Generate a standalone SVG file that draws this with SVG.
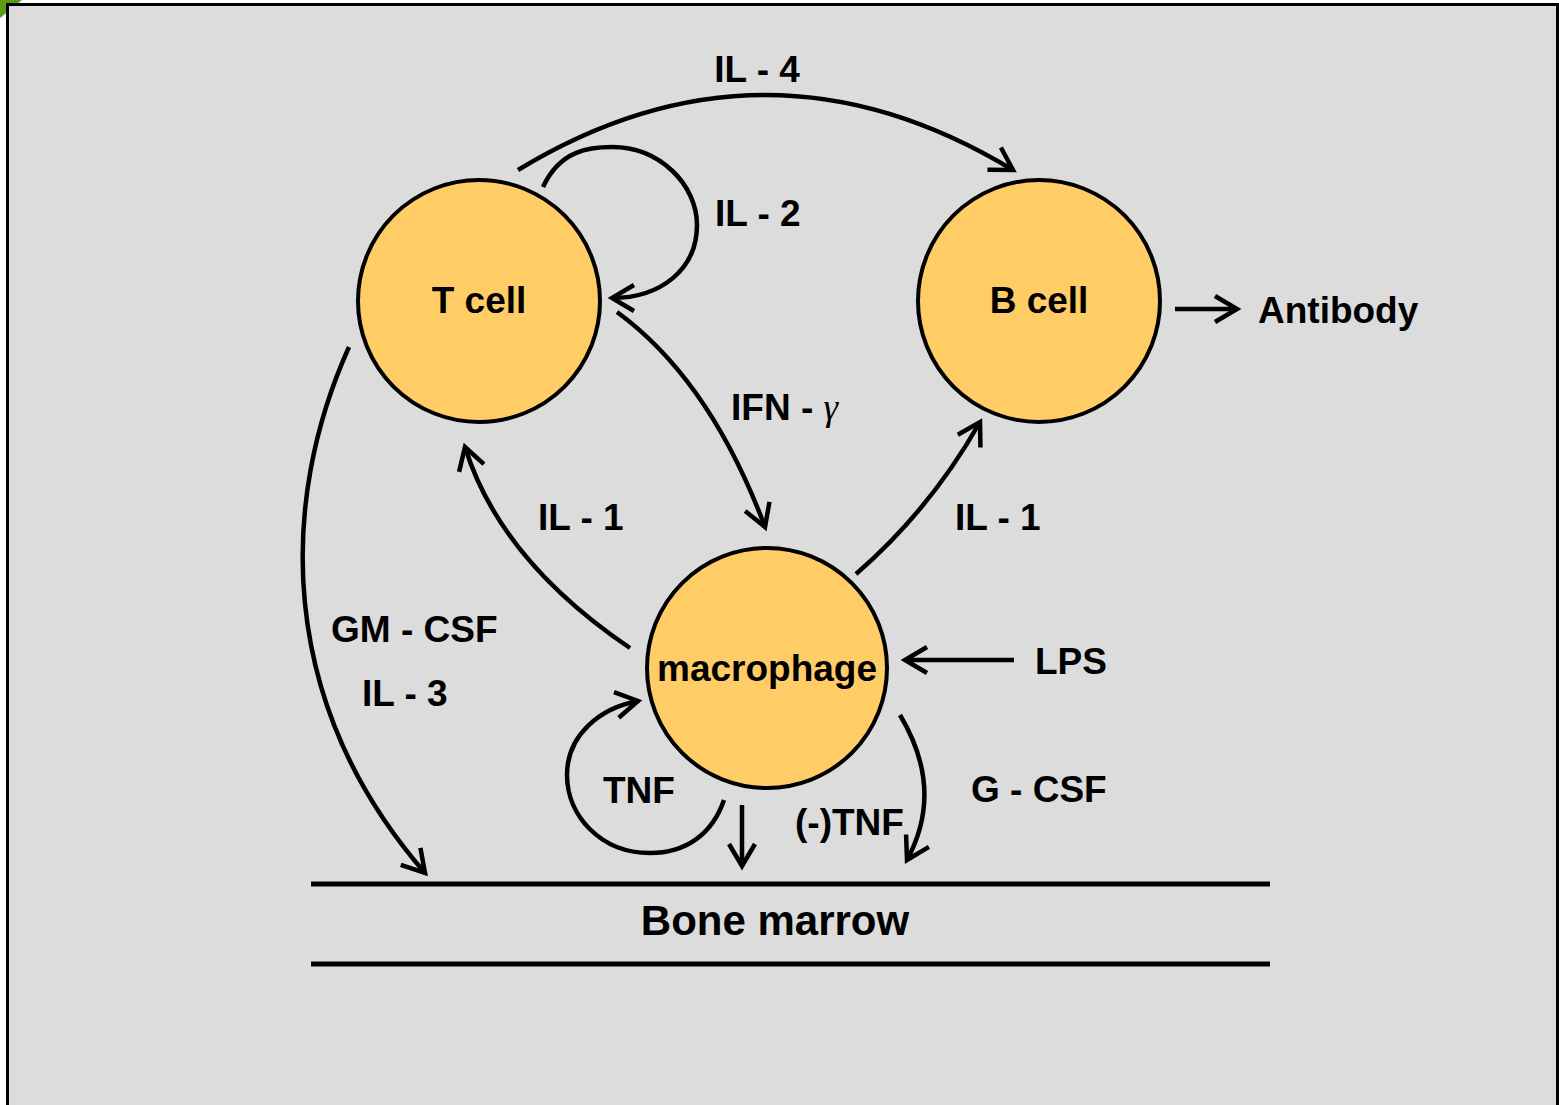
<svg xmlns="http://www.w3.org/2000/svg" width="1559" height="1105" viewBox="0 0 1559 1105">
<style>
.cell{fill:#ffcc66;stroke:#000;stroke-width:4}
.lbl{font-family:"Liberation Sans",Arial,sans-serif;font-weight:bold;font-size:37px;fill:#000}
.con{fill:none;stroke:#000;stroke-width:4.5;stroke-linecap:butt}
.bm{stroke:#000;stroke-width:5}
</style>
<defs>
<marker id="ah" markerWidth="12" markerHeight="12" refX="10" refY="6" orient="auto" markerUnits="userSpaceOnUse" viewBox="0 0 12 12" overflow="visible">
<path d="M-12,-7 L10,6 L-12,19" fill="none" stroke="#000" stroke-width="4.5"/>
</marker>
</defs>
<rect x="0" y="0" width="1559" height="1105" fill="#fff"/>
<polygon points="0,0 22,0 0,18" fill="#5a9a14"/>
<rect x="7.5" y="4.5" width="1550" height="1110" fill="#dcdcdc" stroke="#000" stroke-width="3"/>
<g id="connectors">
<path class="con" d="M518,170 Q765,20 1013,170" marker-end="url(#ah)"/>
<path class="con" d="M543,187 C560,150 590,147 612,147 C660,147 697,185 697,225 C697,270 660,298 612,298" marker-end="url(#ah)"/>
<path class="con" d="M617,312 Q710,380 765,527" marker-end="url(#ah)"/>
<path class="con" d="M630,648 Q500,560 465,447" marker-end="url(#ah)"/>
<path class="con" d="M856,574 Q930,510 980,422" marker-end="url(#ah)"/>
<path class="con" d="M349,347 C280,500 275,700 425,873" marker-end="url(#ah)"/>
<path class="con" d="M1014,660 L905,660" marker-end="url(#ah)"/>
<path class="con" d="M1175,309 L1237,309" marker-end="url(#ah)"/>
<path class="con" d="M724,800 C712,835 685,853 650,853 C600,853 567,815 567,775 C567,735 600,708 638,701" marker-end="url(#ah)"/>
<path class="con" d="M742,805 L742,866" marker-end="url(#ah)"/>
<path class="con" d="M900,715 Q945,790 907,860" marker-end="url(#ah)"/>
</g>
<g id="tcell"><circle class="cell" cx="479" cy="301" r="121"/><text class="lbl" x="479" y="313" text-anchor="middle">T cell</text></g>
<g id="bcell"><circle class="cell" cx="1039" cy="301" r="121"/><text class="lbl" x="1039" y="313" text-anchor="middle">B cell</text></g>
<g id="macrophage"><circle class="cell" cx="767" cy="668" r="120"/><text class="lbl" x="767" y="681" text-anchor="middle">macrophage</text></g>
<g id="bonemarrow">
<line class="bm" x1="311" y1="884" x2="1270" y2="884"/>
<line class="bm" x1="311" y1="964" x2="1270" y2="964"/>
<text class="lbl" x="775" y="935" text-anchor="middle" style="font-size:42px">Bone marrow</text>
</g>
<g id="antibody"><text class="lbl" x="1258" y="323">Antibody</text></g>
<g id="lps"><text class="lbl" x="1035" y="674">LPS</text></g>
<g id="labels">
<text class="lbl" x="757" y="82" text-anchor="middle">IL - 4</text>
<text class="lbl" x="715" y="226">IL - 2</text>
<text class="lbl" x="731" y="420">IFN - <tspan style="font-family:'Liberation Serif','Times New Roman',serif;font-style:italic;font-weight:normal">γ</tspan></text>
<text class="lbl" x="538" y="530">IL - 1</text>
<text class="lbl" x="955" y="530">IL - 1</text>
<text class="lbl" x="331" y="642">GM - CSF</text>
<text class="lbl" x="362" y="706">IL - 3</text>
<text class="lbl" x="603" y="803">TNF</text>
<text class="lbl" x="795" y="835">(-)TNF</text>
<text class="lbl" x="971" y="802">G - CSF</text>
</g>
</svg>
